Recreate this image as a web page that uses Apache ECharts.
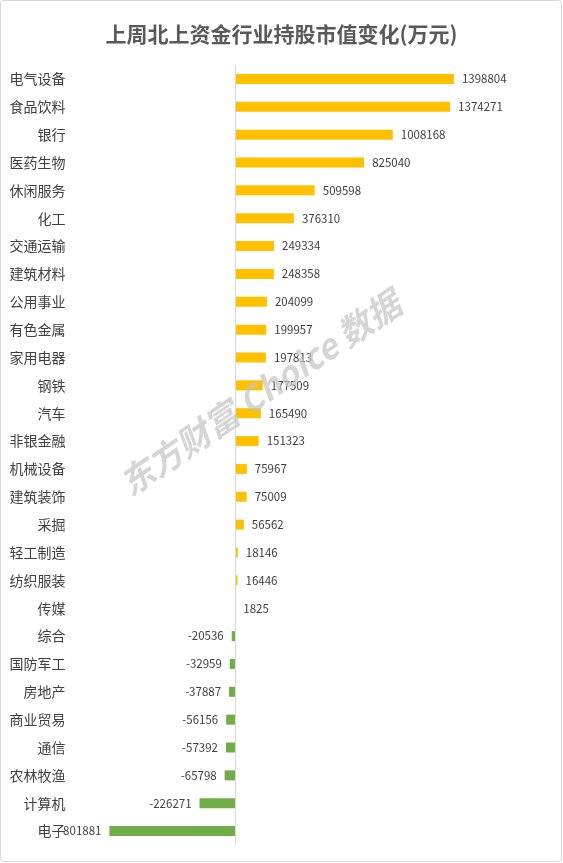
<!DOCTYPE html>
<html><head><meta charset="utf-8">
<script src="https://cdn.jsdelivr.net/npm/echarts@6/dist/echarts.min.js"></script>
<style>html,body{margin:0;padding:0;background:#fff}#c{width:563px;height:863px}</style>
</head><body><div id="c"></div>
<script>
const categories = ['电气设备','食品饮料','银行','医药生物','休闲服务','化工','交通运输','建筑材料','公用事业','有色金属','家用电器','钢铁','汽车','非银金融','机械设备','建筑装饰','采掘','轻工制造','纺织服装','传媒','综合','国防军工','房地产','商业贸易','通信','农林牧渔','计算机','电子'];
const values = [1398804,1374271,1008168,825040,509598,376310,249334,248358,204099,199957,197813,177509,165490,151323,75967,75009,56562,18146,16446,1825,-20536,-32959,-37887,-56156,-57392,-65798,-226271,-801881];
const titleText = '上周北上资金行业持股市值变化(万元)';
const watermarkText = '东方财富 Choice 数据';

const font = '"Noto Sans CJK SC","Noto Sans",sans-serif';
const chart = echarts.init(document.getElementById('c'));
chart.setOption({
  animation: false,
  backgroundColor: '#fff',
  title: {text: titleText, left: 'center', top: 19,
    textStyle: {fontFamily: font, fontSize: 21, fontWeight: 'bold', color: '#595959'}},
  grid: {left: 78.4, right: 93.2, top: 65, bottom: 18, containLabel: false},
  xAxis: {type: 'value', min: -1000000, max: 1500000, show: false, splitLine: {show: false}},
  yAxis: {type: 'category', data: categories, inverse: true,
    axisLine: {show: false}, axisTick: {show: false},
    axisLabel: {margin: 13, fontFamily: font, fontSize: 14, color: '#404040'}},
  series: [{
    type: 'bar', barWidth: 10,
    data: values.map(v => ({value: v,
      itemStyle: {color: v >= 0 ? '#FFC000' : '#70AD47'},
      label: {position: v >= 0 ? 'right' : 'left'}})),
    label: {show: true, distance: 8, fontFamily: font, fontSize: 11.5, color: '#404040'},
    markLine: {silent: true, symbol: 'none', label: {show: false},
      lineStyle: {color: '#d9d9d9', type: 'solid', width: 1},
      data: [{xAxis: 0}]}
  }],
  graphic: [
    {type: 'rect', shape: {x: 0.5, y: 0.5, width: 561, height: 861, r: 3},
      style: {fill: 'none', stroke: '#d9d9d9', lineWidth: 1}, z: 100},
    {type: 'text', x: 260, y: 393, rotation: 0.6, z: 100,
      style: {text: watermarkText, align: 'center', verticalAlign: 'middle',
        font: 'italic bold 34px "Noto Sans CJK SC", sans-serif',
        fill: 'rgba(195,195,195,0.7)'}}
  ]
});
</script></body></html>
